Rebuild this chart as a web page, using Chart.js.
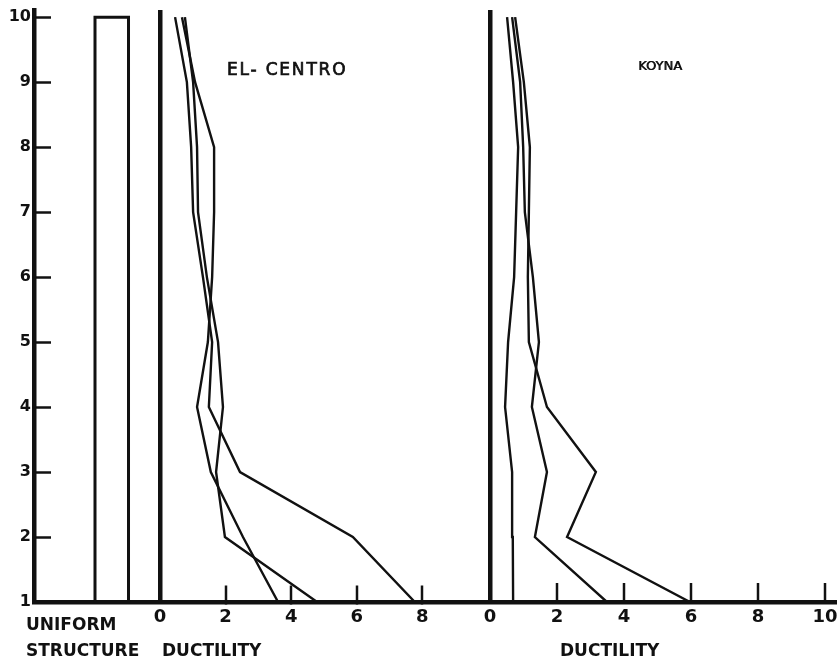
<!DOCTYPE html>
<html>
<head>
<meta charset="utf-8">
<script src="https://cdn.jsdelivr.net/npm/chart.js@4/dist/chart.umd.min.js"></script>
<style>
  html, body { margin: 0; padding: 0; background: #ffffff; }
  #wrap { width: 837px; height: 663px; }
</style>
</head>
<body>
<div id="wrap"><canvas id="c" width="837" height="663"></canvas></div>
<script>
// ---- data (floor number vs. ductility) ----
const floors = [1, 2, 3, 4, 5, 6, 7, 8, 9, 10];

const elCentro1 = [7.77, 5.88, 2.44, 1.49, 1.59, 1.31, 1.01, 0.95, 0.82, 0.46];
const elCentro2 = [4.79, 1.98, 1.71, 1.92, 1.77, 1.43, 1.16, 1.13, 1.01, 0.76];
const elCentro3 = [3.60, 2.53, 1.55, 1.13, 1.46, 1.59, 1.65, 1.65, 1.07, 0.67];

const koyna1 = [5.97, 2.30, 3.16, 1.70, 1.16, 1.13, 1.16, 1.19, 1.01, 0.75];
const koyna2 = [3.49, 1.34, 1.70, 1.25, 1.46, 1.28, 1.04, 0.99, 0.90, 0.66];
const koyna3 = [0.69, 0.68, 0.66, 0.45, 0.54, 0.72, 0.78, 0.84, 0.69, 0.51];

const uniformStructure = [1, 1, 1, 1, 1, 1, 1, 1, 1, 1];

const floorTicks = [1, 2, 3, 4, 5, 6, 7, 8, 9, 10];
const elCentroTicks = [0, 2, 4, 6, 8];
const koynaTicks = [0, 2, 4, 6, 8, 10];

// ---- helpers ----
const INK = '#111111';
const profile = (vals) => floors.map((f, i) => ({ x: vals[i], y: f }));
const lastIdx = floors.length - 1;
const uniformOutline = [{ x: 0, y: floors[0] }, { x: 0, y: floors[lastIdx] }]
  .concat(floors.slice().reverse().map((f, i) => ({ x: uniformStructure[lastIdx - i], y: f })));

const curve = (vals, axis) => ({
  data: profile(vals), xAxisID: axis, yAxisID: 'y',
  borderColor: INK, borderWidth: 2.4, pointRadius: 0, fill: false, tension: 0
});

const tickFont = { family: 'DejaVu Sans', weight: 'bold', size: 18 };

const noPad = (s) => { s.paddingTop = 0; s.paddingBottom = 0; s.paddingLeft = 0; s.paddingRight = 0; };

const zeroGrid = (tw) => ({
  display: true,
  drawOnChartArea: true,
  drawTicks: true,
  tickLength: -19,
  color: (c) => (c.tick && c.tick.value === 0) ? INK : 'rgba(0,0,0,0)',
  lineWidth: (c) => (c.tick && c.tick.value === 0) ? 4.5 : 0,
  tickColor: (c) => (c.tick && c.tick.value === 0) ? 'rgba(0,0,0,0)' : INK,
  tickWidth: (c) => (c.tick && c.tick.value === 0) ? 0 : tw
});

const textPlugin = {
  id: 'annotText',
  afterDraw(chart) {
    const ctx = chart.ctx;
    ctx.save();
    ctx.fillStyle = INK;
    ctx.strokeStyle = INK;
    ctx.textBaseline = 'alphabetic';
    ctx.textAlign = 'left';
    ctx.font = 'bold 17px "DejaVu Sans"';
    ctx.letterSpacing = '0px';
    ctx.fillText('UNIFORM', 26, 630);
    ctx.fillText('STRUCTURE', 26, 656);
    ctx.fillText('DUCTILITY', 162, 656);
    ctx.fillText('DUCTILITY', 560, 656);
    ctx.font = '17px "DejaVu Sans"';
    ctx.letterSpacing = '1.8px';
    ctx.lineWidth = 0.7;
    ctx.fillText('EL- CENTRO', 227, 75);
    ctx.strokeText('EL- CENTRO', 227, 75);
    ctx.font = '13px "DejaVu Sans"';
    ctx.letterSpacing = '0px';
    ctx.fillText('KOYNA', 638, 70);
    ctx.fillText('KOYNA', 638.7, 70);
    ctx.restore();
  }
};

new Chart(document.getElementById('c'), {
  type: 'line',
  data: {
    datasets: [
      { data: uniformOutline, xAxisID: 'xU', yAxisID: 'y', borderColor: INK, borderWidth: 3,
        pointRadius: 0, fill: false, tension: 0 },
      curve(elCentro1, 'xE'),
      curve(elCentro2, 'xE'),
      curve(elCentro3, 'xE'),
      curve(koyna1, 'xK'),
      curve(koyna2, 'xK'),
      curve(koyna3, 'xK')
    ]
  },
  options: {
    responsive: false,
    animation: false,
    devicePixelRatio: 1,
    layout: { padding: { top: 10, bottom: 61, left: 0, right: 0 } },
    plugins: { legend: { display: false }, tooltip: { enabled: false } },
    elements: { line: { borderJoinStyle: 'miter', borderCapStyle: 'butt' } },
    scales: {
      y: {
        type: 'linear', position: 'left', min: 1, max: 10.11,
        afterFit: (s) => { s.width = 34; noPad(s); },
        afterBuildTicks: (s) => { s.ticks = floorTicks.map((v) => ({ value: v })); },
        grid: { display: true, drawOnChartArea: false, drawTicks: true, tickLength: -17,
                tickColor: INK, tickWidth: 2.5 },
        border: { display: true, color: INK, width: 4.5 },
        ticks: { color: INK, font: { family: 'DejaVu Sans', weight: 'bold', size: 16 }, padding: 20 }
      },
      xE: {
        type: 'linear', axis: 'x', position: { y: 1 }, min: -3.841, max: 20.641,
        afterFit: noPad,
        afterBuildTicks: (s) => { s.ticks = elCentroTicks.map((v) => ({ value: v })); },
        grid: zeroGrid(2.5),
        border: { display: true, color: INK, width: 4.5 },
        ticks: { color: INK, font: tickFont, padding: 24, maxRotation: 0, minRotation: 0, autoSkip: false }
      },
      xK: {
        type: 'linear', axis: 'x', position: { y: 1 }, min: -13.612, max: 10.358,
        afterFit: noPad,
        afterBuildTicks: (s) => { s.ticks = koynaTicks.map((v) => ({ value: v })); },
        grid: zeroGrid(2.5),
        border: { display: false },
        ticks: { color: INK, font: tickFont, padding: 24, maxRotation: 0, minRotation: 0, autoSkip: false }
      },
      xU: { type: 'linear', axis: 'x', display: false, min: -1.821, max: 22.149 }
    }
  },
  plugins: [textPlugin]
});
</script>
</body>
</html>
